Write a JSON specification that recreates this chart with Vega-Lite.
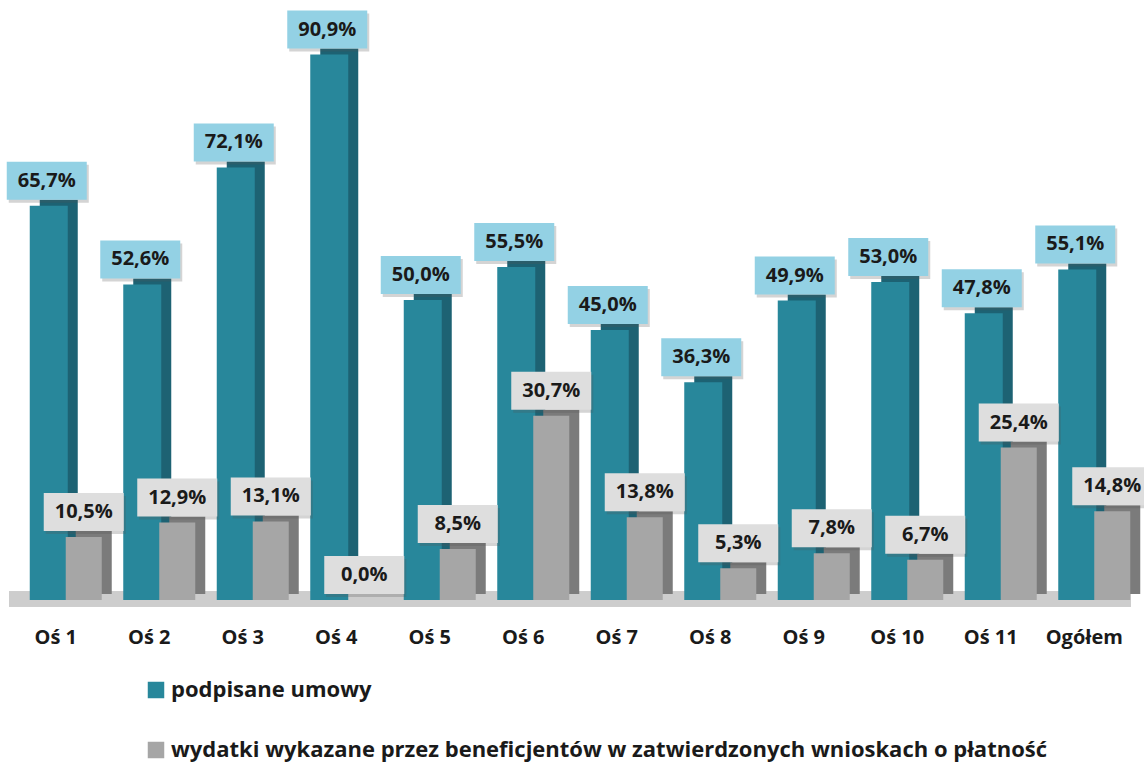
{
  "$schema": "https://vega.github.io/schema/vega-lite/v6.json",
  "width": 1122,
  "height": 600,
  "autosize": {"type": "none"},
  "padding": {"left": 9, "top": 0, "right": 13, "bottom": 165},
  "background": "white",
  "config": {
    "view": {"stroke": null},
    "font": "Open Sans",
    "locale": {"number": {"decimal": ",", "thousands": " ", "grouping": [3], "currency": ["", " zł"]}}
  },
  "data": {"values": [
    {"cat": "Oś 1", "series": "podpisane umowy", "value": 0.657},
    {"cat": "Oś 1", "series": "wydatki wykazane przez beneficjentów w zatwierdzonych wnioskach o płatność", "value": 0.105},
    {"cat": "Oś 2", "series": "podpisane umowy", "value": 0.526},
    {"cat": "Oś 2", "series": "wydatki wykazane przez beneficjentów w zatwierdzonych wnioskach o płatność", "value": 0.129},
    {"cat": "Oś 3", "series": "podpisane umowy", "value": 0.721},
    {"cat": "Oś 3", "series": "wydatki wykazane przez beneficjentów w zatwierdzonych wnioskach o płatność", "value": 0.131},
    {"cat": "Oś 4", "series": "podpisane umowy", "value": 0.909},
    {"cat": "Oś 4", "series": "wydatki wykazane przez beneficjentów w zatwierdzonych wnioskach o płatność", "value": 0.0},
    {"cat": "Oś 5", "series": "podpisane umowy", "value": 0.5},
    {"cat": "Oś 5", "series": "wydatki wykazane przez beneficjentów w zatwierdzonych wnioskach o płatność", "value": 0.085},
    {"cat": "Oś 6", "series": "podpisane umowy", "value": 0.555},
    {"cat": "Oś 6", "series": "wydatki wykazane przez beneficjentów w zatwierdzonych wnioskach o płatność", "value": 0.307},
    {"cat": "Oś 7", "series": "podpisane umowy", "value": 0.45},
    {"cat": "Oś 7", "series": "wydatki wykazane przez beneficjentów w zatwierdzonych wnioskach o płatność", "value": 0.138},
    {"cat": "Oś 8", "series": "podpisane umowy", "value": 0.363},
    {"cat": "Oś 8", "series": "wydatki wykazane przez beneficjentów w zatwierdzonych wnioskach o płatność", "value": 0.053},
    {"cat": "Oś 9", "series": "podpisane umowy", "value": 0.499},
    {"cat": "Oś 9", "series": "wydatki wykazane przez beneficjentów w zatwierdzonych wnioskach o płatność", "value": 0.078},
    {"cat": "Oś 10", "series": "podpisane umowy", "value": 0.53},
    {"cat": "Oś 10", "series": "wydatki wykazane przez beneficjentów w zatwierdzonych wnioskach o płatność", "value": 0.067},
    {"cat": "Oś 11", "series": "podpisane umowy", "value": 0.478},
    {"cat": "Oś 11", "series": "wydatki wykazane przez beneficjentów w zatwierdzonych wnioskach o płatność", "value": 0.254},
    {"cat": "Ogółem", "series": "podpisane umowy", "value": 0.551},
    {"cat": "Ogółem", "series": "wydatki wykazane przez beneficjentów w zatwierdzonych wnioskach o płatność", "value": 0.148}
  ]},
  "encoding": {
    "x": {
      "field": "cat", "type": "nominal", "sort": null,
      "scale": {"paddingInner": 0, "paddingOuter": 0},
      "axis": {"title": null, "domain": false, "ticks": false, "labelAngle": 0,
               "labelFontSize": 20, "labelFontWeight": "bold", "labelColor": "#1a1a1a",
               "labelPadding": 27, "labelFont": "Open Sans"}
    },
    "y": {"field": "value", "type": "quantitative", "scale": {"domain": [0, 1]}, "axis": null}
  },
  "layer": [
    {
      "mark": {"type": "rule", "color": "#cdcdcd", "strokeWidth": 15, "yOffset": -1},
      "encoding": {"y": {"datum": 0}, "x": null}
    },
    {
      "transform": [{"filter": "datum.series === 'podpisane umowy'"}],
      "layer": [
        {"mark": {"type": "bar", "width": 38, "xOffset": 3, "yOffset": -6, "color": "#1d6273"}, "encoding": {}},
        {"mark": {"type": "bar", "width": 38, "xOffset": -7}, "encoding": {
          "color": {"field": "series", "type": "nominal",
            "scale": {"domain": ["podpisane umowy", "wydatki wykazane przez beneficjentów w zatwierdzonych wnioskach o płatność"], "range": ["#28879b", "#a6a6a6"]},
            "legend": {"title": null, "orient": "none", "legendX": 136, "legendY": 679, "direction": "vertical",
                       "symbolType": "square", "symbolSize": 272, "symbolStrokeWidth": 0, "symbolOpacity": 1,
                       "labelFontSize": 22, "labelFontWeight": "bold", "labelColor": "#1a1a1a", "labelFont": "Open Sans",
                       "labelLimit": 2000, "rowPadding": 38, "labelOffset": 4}}
        }}
      ]
    },
    {
      "transform": [{"filter": "datum.series !== 'podpisane umowy'"}],
      "layer": [
        {"mark": {"type": "bar", "width": 36, "xOffset": 38, "yOffset": -6, "color": "#7b7b7b"}, "encoding": {}},
        {"mark": {"type": "bar", "width": 36, "xOffset": 28}, "encoding": {"color": {"field": "series", "type": "nominal"}}}
      ]
    },
    {
      "transform": [{"filter": "datum.series === 'podpisane umowy'"}],
      "layer": [
        {"mark": {"type": "point", "shape": "M-1,-0.475H1V0.475H-1Z", "size": 6400, "filled": true, "opacity": 0.25, "color": "#555555", "xOffset": -7, "yOffset": -22}, "encoding": {}},
        {"mark": {"type": "point", "shape": "M-1,-0.475H1V0.475H-1Z", "size": 6400, "filled": true, "opacity": 1, "color": "#93d1e4", "xOffset": -9, "yOffset": -25, "strokeWidth": 0}, "encoding": {}},
        {"mark": {"type": "text", "xOffset": -9, "yOffset": -25, "fontSize": 20, "fontWeight": "bold", "color": "#1a1a1a", "baseline": "middle", "align": "center", "font": "Open Sans"},
         "encoding": {"text": {"field": "value", "type": "quantitative", "format": ".1%"}}}
      ]
    },
    {
      "transform": [{"filter": "datum.series !== 'podpisane umowy'"}],
      "layer": [
        {"mark": {"type": "point", "shape": "M-1,-0.475H1V0.475H-1Z", "size": 6400, "filled": true, "opacity": 0.25, "color": "#555555", "xOffset": 30, "yOffset": -22}, "encoding": {}},
        {"mark": {"type": "point", "shape": "M-1,-0.475H1V0.475H-1Z", "size": 6400, "filled": true, "opacity": 1, "color": "#dedede", "xOffset": 28, "yOffset": -25, "strokeWidth": 0}, "encoding": {}},
        {"mark": {"type": "text", "xOffset": 28, "yOffset": -25, "fontSize": 20, "fontWeight": "bold", "color": "#1a1a1a", "baseline": "middle", "align": "center", "font": "Open Sans"},
         "encoding": {"text": {"field": "value", "type": "quantitative", "format": ".1%"}}}
      ]
    }
  ]
}
